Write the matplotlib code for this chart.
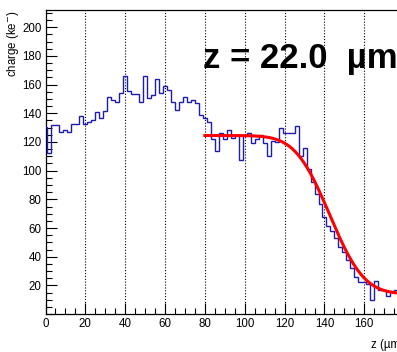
import math
import numpy as np
import matplotlib
matplotlib.use("Agg")
import matplotlib.pyplot as plt
from matplotlib.ticker import MultipleLocator

# ---- data ----
bin_width = 2.0
bin_centers = np.arange(0, 178, 2)  # 0 .. 176 um
charge = [
    130.7, 112.6, 131.6, 131.6, 126.8, 128.2, 126.8, 132.6, 132.6, 138.1,   # 0-18
    132.6, 134.2, 135.3, 140.7, 136.5, 141.6, 151.6, 149.3, 147.7, 153.9,   # 20-38
    166.0, 155.6, 153.2, 153.2, 147.7, 166.0, 150.5, 152.7, 163.8, 154.0,   # 40-58
    159.0, 156.0, 148.0, 142.0, 148.0, 151.6, 148.0, 149.5, 147.0, 139.0,   # 60-78
    137.0, 134.0, 122.0, 114.0, 126.5, 121.8, 128.0, 123.0, 124.8, 107.5,   # 80-98
    125.0, 126.0, 119.0, 121.8, 124.8, 119.0, 110.0, 121.0, 120.0, 129.5,   # 100-118
    126.0, 126.0, 126.0, 131.0, 110.0, 115.5, 101.0, 92.0, 84.0, 77.0,      # 120-138
    68.0, 61.5, 58.0, 53.0, 47.0, 43.5, 38.0, 32.0, 26.0, 22.5,            # 140-158
    22.5, 21.0, 10.0, 23.0, 17.0, 17.0, 12.5, 16.0, 17.0,                  # 160-176
]

# error-function fit parameters (red curve)
fit_plateau = 124.5
fit_floor = 14.0
fit_mu = 142.6
fit_sigma = 13.6
fit_range = (80.0, 180.0)

x_ticks = [0, 20, 40, 60, 80, 100, 120, 140, 160]
y_ticks = [20, 40, 60, 80, 100, 120, 140, 160, 180, 200]
x_title = "z (\u00b5m)"
y_title = "charge (ke$^{-}$)"
label_text = "z = 22.0  \u00b5m"

# ---- figure ----
W, H = 397, 352
fig = plt.figure(figsize=(W / 100, H / 100), dpi=100)
plt.rcParams["font.family"] = ["Liberation Sans", "DejaVu Sans"]

ax_left, ax_right, ax_top, ax_bot = 45.5, 404.2, 10.0, 314.1
ax = fig.add_axes([ax_left / W, 1 - ax_bot / H, (ax_right - ax_left) / W, (ax_bot - ax_top) / H])
ax.set_xlim(0, 180)
ax.set_ylim(0, 212)

# grid along x only
for xv in x_ticks[1:]:
    ax.axvline(xv, color="black", lw=0.8, ls=(0, (1, 1.6)), zorder=1)

edges = np.concatenate([bin_centers - bin_width / 2, [bin_centers[-1] + bin_width / 2]])
ax.stairs(charge, edges, baseline=None, color="#1c1cb0", lw=1.0, zorder=3)

xf = np.linspace(fit_range[0], fit_range[1], 400)
yf = np.array([fit_floor + (fit_plateau - fit_floor) * 0.5 *
               math.erfc((v - fit_mu) / (math.sqrt(2) * fit_sigma)) for v in xf])
ax.plot(xf, yf, color="#ff0000", lw=2.2, zorder=4)

ax.set_xticks(x_ticks)
ax.set_yticks(y_ticks)
ax.xaxis.set_minor_locator(MultipleLocator(5))
ax.yaxis.set_minor_locator(MultipleLocator(5))
ax.tick_params(which="major", direction="in", length=8, width=0.8, labelsize=8.3, pad=3)
ax.tick_params(which="minor", direction="in", length=4, width=0.8)
ax.tick_params(axis="x", top=False)
ax.tick_params(axis="y", right=False)
for s in ax.spines.values():
    s.set_linewidth(0.9)

ax.set_ylabel(y_title, loc="top", fontsize=8.3)
ax.yaxis.set_label_coords(-0.068, 1.0)
ax.set_xlabel(x_title, loc="right", fontsize=8.3)
ax.xaxis.set_label_coords(1.0, -0.082)

fig.text(203 / W, 1 - 68 / H, label_text, fontsize=25, fontweight="bold",
         ha="left", va="baseline")

fig.savefig("out.png", dpi=100)
